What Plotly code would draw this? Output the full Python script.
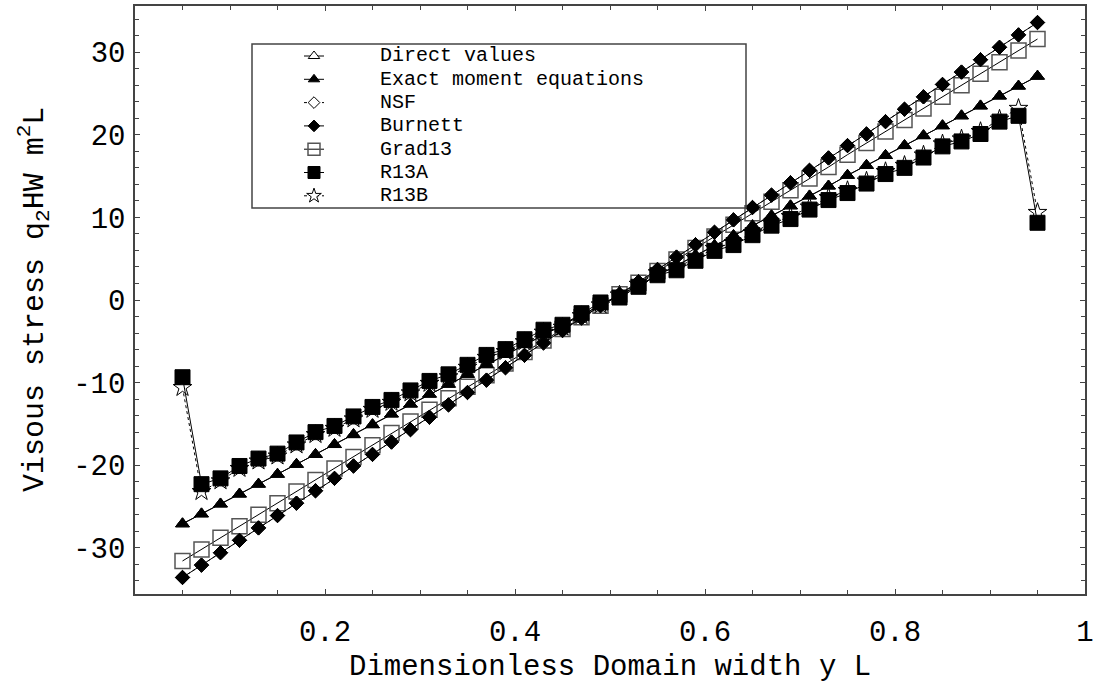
import plotly.graph_objects as go

# ---------------- data ----------------
x_vals = [0.05, 0.07, 0.09, 0.11, 0.13, 0.15, 0.17, 0.19, 0.21, 0.23, 0.25, 0.27,
          0.29, 0.31, 0.33, 0.35, 0.37, 0.39, 0.41, 0.43, 0.45, 0.47, 0.49, 0.51,
          0.53, 0.55, 0.57, 0.59, 0.61, 0.63, 0.65, 0.67, 0.69, 0.71, 0.73, 0.75,
          0.77, 0.79, 0.81, 0.83, 0.85, 0.87, 0.89, 0.91, 0.93, 0.95]

exact_moment = [-27.1, -25.9, -24.7, -23.5, -22.3, -21.1, -19.9, -18.7, -17.5, -16.3,
                -15.1, -13.8, -12.6, -11.4, -10.2, -9.0, -7.8, -6.6, -5.4, -4.2, -3.0,
                -1.8, -0.6, 0.6, 1.8, 3.0, 4.2, 5.4, 6.6, 7.8, 9.0, 10.2, 11.4, 12.6,
                13.8, 15.1, 16.3, 17.5, 18.7, 19.9, 21.1, 22.3, 23.5, 24.7, 25.9, 27.1]
direct_values = [-27.1, -25.9, -24.7, -23.5, -22.3, -21.1, -19.9, -18.7, -17.5, -16.3,
                 -15.1, -13.8, -12.6, -11.4, -10.2, -9.0, -7.8, -6.6, -5.4, -4.2, -3.0,
                 -1.8, -0.6, 0.6, 1.8, 3.0, 4.2, 5.4, 6.6, 7.8, 9.0, 10.2, 11.4, 12.6,
                 13.8, 15.1, 16.3, 17.5, 18.7, 19.9, 21.1, 22.3, 23.5, 24.7, 25.9, 27.1]
burnett = [-33.6, -32.1, -30.6, -29.1, -27.6, -26.1, -24.6, -23.1, -21.6, -20.1, -18.7,
           -17.2, -15.7, -14.2, -12.7, -11.2, -9.7, -8.2, -6.7, -5.2, -3.7, -2.2, -0.7,
           0.7, 2.2, 3.7, 5.2, 6.7, 8.2, 9.7, 11.2, 12.7, 14.2, 15.7, 17.2, 18.7, 20.1,
           21.6, 23.1, 24.6, 26.1, 27.6, 29.1, 30.6, 32.1, 33.6]
nsf = [-33.6, -32.1, -30.6, -29.1, -27.6, -26.1, -24.6, -23.1, -21.6, -20.1, -18.7,
       -17.2, -15.7, -14.2, -12.7, -11.2, -9.7, -8.2, -6.7, -5.2, -3.7, -2.2, -0.7,
       0.7, 2.2, 3.7, 5.2, 6.7, 8.2, 9.7, 11.2, 12.7, 14.2, 15.7, 17.2, 18.7, 20.1,
       21.6, 23.1, 24.6, 26.1, 27.6, 29.1, 30.6, 32.1, 33.6]
grad13 = [-31.6, -30.2, -28.8, -27.4, -26.0, -24.6, -23.2, -21.8, -20.4, -19.0, -17.6,
          -16.1, -14.7, -13.3, -11.9, -10.5, -9.1, -7.7, -6.3, -4.9, -3.5, -2.1, -0.7,
          0.7, 2.1, 3.5, 4.9, 6.3, 7.7, 9.1, 10.5, 11.9, 13.3, 14.7, 16.1, 17.6, 19.0,
          20.4, 21.8, 23.2, 24.6, 26.0, 27.4, 28.8, 30.2, 31.6]
r13a = [-9.35, -22.3, -21.6, -20.1, -19.2, -18.6, -17.25, -16.0, -15.25, -14.1, -12.95,
        -12.1, -10.95, -9.8, -9.0, -7.85, -6.65, -5.95, -4.75, -3.6, -3.0, -1.6, -0.3,
        0.3, 1.6, 3.0, 3.6, 4.75, 5.95, 6.65, 7.85, 9.0, 9.8, 10.95, 12.1, 12.95, 14.1,
        15.25, 16.0, 17.25, 18.6, 19.2, 20.1, 21.6, 22.3, 9.35]
r13b = [-10.6, -23.2, -21.9, -20.4, -19.5, -18.9, -17.55, -16.3, -15.55, -14.4, -13.25,
        -12.4, -11.25, -10.1, -9.3, -8.15, -6.95, -6.25, -5.05, -3.9, -3.3, -1.9, -0.6,
        0.6, 1.9, 3.3, 3.9, 5.05, 6.25, 6.95, 8.15, 9.3, 10.1, 11.25, 12.4, 13.25, 14.4,
        15.55, 16.3, 17.55, 18.9, 19.5, 20.4, 21.9, 23.2, 10.6]

legend_labels = ["Direct values", "Exact moment equations", "NSF", "Burnett",
                 "Grad13", "R13A", "R13B"]
x_tickvals = [0.2, 0.4, 0.6, 0.8, 1.0]
x_ticktext = ["0.2", "0.4", "0.6", "0.8", "1"]
y_tickvals = [-30, -20, -10, 0, 10, 20, 30]
y_ticktext = ["-30", "-20", "-10", "0", "10", "20", "30"]
x_title = "Dimensionless Domain width y L"
y_title = "Visous stress q<sub>2</sub>HW m<sup>2</sup>L"

FONT = "Liberation Mono, Courier New, monospace"
INK = "black"
FRAME = "#444444"

# style per series: (symbol, size, fill, outline colour, outline width, dash)
styles = {
    "Direct values": ("triangle-up", 12, "white", INK, 1, "solid"),
    "Exact moment equations": ("triangle-up", 12, INK, INK, 1, "solid"),
    "NSF": ("diamond", 11, "white", INK, 1, "dot"),
    "Burnett": ("diamond", 11, INK, INK, 1, "solid"),
    "Grad13": ("square", 15, "rgba(255,255,255,0)", "#555555", 1.5, "solid"),
    "R13A": ("square", 15, INK, INK, 1, "solid"),
    "R13B": ("star", 14, "white", INK, 1, "dot"),
}
series = {
    "Direct values": direct_values,
    "Exact moment equations": exact_moment,
    "NSF": nsf,
    "Burnett": burnett,
    "Grad13": grad13,
    "R13A": r13a,
    "R13B": r13b,
}
draw_order = ["Direct values", "NSF", "Grad13", "R13B", "Exact moment equations",
              "Burnett", "R13A"]

fig = go.Figure()
for name in draw_order:
    sym, size, fill, oc, ow, dash = styles[name]
    fig.add_trace(go.Scatter(
        x=x_vals, y=series[name], mode="lines+markers", name=name,
        line=dict(color=INK, width=1, dash=dash),
        marker=dict(symbol=sym, size=size, color=fill, line=dict(color=oc, width=ow)),
        showlegend=False))

# ---------------- layout geometry ----------------
W, H = 1098, 686
L, R, T, B = 135, 13, 6, 92
pw, ph = W - L - R, H - T - B


def px2paper_x(px):
    return (px - L) / pw


def px2paper_y(py):
    return (H - B - py) / ph


# ---------------- custom legend (paper coords via overlay axes) ----------------
row0, row_step = 56.0, 23.3
sym_x = 314
for i, name in enumerate(legend_labels):
    sym, size, fill, oc, ow, dash = styles[name]
    yy = px2paper_y(row0 + i * row_step)
    fig.add_trace(go.Scatter(
        x=[px2paper_x(sym_x - 10), px2paper_x(sym_x + 10)], y=[yy, yy],
        mode="lines", line=dict(color=INK, width=1, dash=dash),
        xaxis="x2", yaxis="y2", showlegend=False, hoverinfo="skip"))
    fig.add_trace(go.Scatter(
        x=[px2paper_x(sym_x)], y=[yy], mode="markers",
        marker=dict(symbol=sym, size=round(size * 0.8), color=fill,
                    line=dict(color=oc, width=ow)),
        xaxis="x2", yaxis="y2", showlegend=False, hoverinfo="skip", cliponaxis=False))
    fig.add_annotation(x=px2paper_x(378), y=yy, xref="paper", yref="paper",
                       text=name, showarrow=False, xanchor="left", yanchor="middle",
                       font=dict(family=FONT, size=20, color=INK))

fig.add_shape(type="rect", xref="paper", yref="paper",
              x0=px2paper_x(252), x1=px2paper_x(746),
              y0=px2paper_y(208), y1=px2paper_y(44),
              line=dict(color=FRAME, width=1.5), fillcolor="rgba(0,0,0,0)")

# axis titles as annotations (fixed positions)
fig.add_annotation(x=0.5, y=px2paper_y(667), xref="paper", yref="paper",
                   text=x_title, showarrow=False, xanchor="center", yanchor="middle",
                   font=dict(family=FONT, size=29, color=INK))
fig.add_annotation(x=px2paper_x(34), y=0.5, xref="paper", yref="paper",
                   text=y_title, showarrow=False, textangle=-90,
                   xanchor="center", yanchor="middle",
                   font=dict(family=FONT, size=30, color=INK))

fig.update_layout(
    width=W, height=H,
    margin=dict(l=L, r=R, t=T, b=B),
    paper_bgcolor="white", plot_bgcolor="white",
    font=dict(family=FONT, size=29, color=INK),
    showlegend=False,
    xaxis=dict(range=[0, 1], tickvals=x_tickvals, ticktext=x_ticktext,
               ticks="inside", ticklen=5, tickcolor=FRAME, tickwidth=1,
               showline=True, linecolor=FRAME, linewidth=1.5, mirror="ticks",
               showgrid=False, zeroline=False, ticklabelstandoff=10,
               automargin=False,
               tickfont=dict(family=FONT, size=29, color=INK),
               minor=dict(dtick=0.05, tick0=0, ticks="inside", ticklen=4,
                          tickcolor=FRAME, showgrid=False)),
    yaxis=dict(range=[-35.6, 35.6], tickvals=y_tickvals, ticktext=y_ticktext,
               ticks="inside", ticklen=5, tickcolor=FRAME, tickwidth=1,
               showline=True, linecolor=FRAME, linewidth=1.5, mirror="ticks",
               showgrid=False, zeroline=False, ticklabelstandoff=2,
               automargin=False,
               tickfont=dict(family=FONT, size=29, color=INK),
               minor=dict(dtick=2, tick0=0, ticks="inside", ticklen=4,
                          tickcolor=FRAME, showgrid=False)),
    xaxis2=dict(overlaying="x", range=[0, 1], visible=False, fixedrange=True),
    yaxis2=dict(overlaying="y", range=[0, 1], visible=False, fixedrange=True),
)

fig.write_html("out.html")
